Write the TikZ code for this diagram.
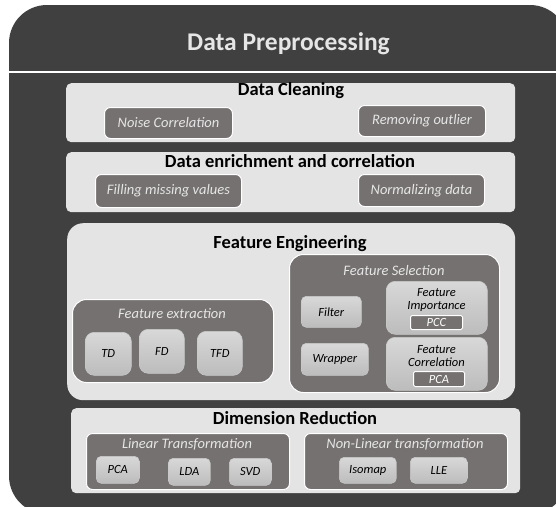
\documentclass[tikz,border=0pt]{standalone}
\usepackage{fontspec}
\setmainfont{Carlito}
\definecolor{dark}{HTML}{404040}
\definecolor{light}{HTML}{E4E4E4}
\definecolor{mid}{HTML}{757170}
\definecolor{chiptop}{HTML}{D8D8D8}
\definecolor{chipbot}{HTML}{BCBCBC}
\definecolor{titlec}{HTML}{E6E6E6}
\newcommand\bx[7]{\node[#1,anchor=north west,inner sep=0pt,minimum width={#5pt-#3pt},minimum height={#6pt-#4pt}] (#2) at (#3pt,-#4pt) {#7};}
\newcommand\fs[1]{\fontsize{#1}{#1}\selectfont}
\tikzset{
  lightbox/.style={fill=light,draw=none,rounded corners=5pt},
  bigbox/.style={fill=light,draw=none,rounded corners=16pt},
  midbox/.style={fill=mid,draw=white,line width=1pt,rounded corners=6pt,font=\fs{14.5}\itshape,text=titlec},
  midround/.style={fill=mid,draw=white,line width=1pt,rounded corners=14pt},
  chip/.style={top color=chiptop,bottom color=chipbot,draw=chipbot!80!white,line width=0.6pt,rounded corners=5pt,font=\fs{12.5}\itshape,text=black},
  chipbig/.style={chip,rounded corners=9pt},
  tag/.style={fill=mid,draw=white,line width=1pt,rounded corners=1.5pt,font=\fs{12.5}\itshape,text=white},
  sectitle/.style={font=\fs{18.5}\bfseries,text=black,inner sep=0pt},
  midtitle/.style={font=\fs{14.5}\itshape,text=titlec,inner sep=0pt},
}
\begin{document}
\begin{tikzpicture}[x=1pt,y=1pt]
\useasboundingbox (0,0) rectangle (556,-506);
\clip (0,0) rectangle (556,-506);
\fill[dark,rounded corners=38pt] (9,-5) rectangle (568,-514);
\node[font=\fs{25.5}\bfseries,text=titlec,inner sep=0pt] (title) at (288.5,-44) {Data Preprocessing};
\coordinate (lineL) at (9,-72);
\coordinate (lineR) at (556,-72);
\draw[white,line width=1.6pt] (lineL) -- (lineR);

% Data cleaning
\bx{lightbox}{clean}{66}{83}{515}{142}{}
\node[sectitle] (cleant) at (291,-91) {Data Cleaning};
\bx{midbox}{noise}{104}{107}{232}{138}{Noise Correlation}
\bx{midbox}{outlier}{358}{105}{485}{136}{Removing outlier}

% Data enrichment
\bx{lightbox}{enrich}{66}{152}{515}{212}{}
\node[sectitle] (enricht) at (290,-161) {Data enrichment and correlation};
\bx{midbox}{filling}{95}{174}{241}{207}{Filling missing values}
\bx{midbox}{normal}{358}{174}{484}{206}{Normalizing data}

% Feature engineering
\bx{bigbox}{feat}{67}{223}{515}{400}{}
\node[sectitle] (featt) at (290,-244) {Feature Engineering};
\bx{midround}{fext}{72}{299}{273}{382}{}
\node[midtitle] (fextt) at (172,-314) {Feature extraction};
\bx{chipbig}{td}{85}{332}{131}{375}{TD}
\bx{chipbig}{fd}{139}{329}{184}{373}{FD}
\bx{chipbig}{tfd}{197}{331}{242}{375}{TFD}

\bx{midround}{fsel}{289}{254}{499}{392}{}
\node[midtitle] (fselt) at (394,-271) {Feature Selection};
\bx{chip}{filter}{301}{296}{361}{327}{Filter}
\bx{chip}{wrapper}{301}{343}{368}{375}{Wrapper}
\bx{chipbig}{fimp}{386}{281}{487}{334}{}
\node[font=\fs{12.5}\itshape,align=center,inner sep=0pt] (fimpt) at (436.5,-300) {Feature\\[1pt]Importance};
\bx{tag}{pcc}{410}{315}{462}{329}{PCC}
\bx{chipbig}{fcor}{386}{337}{487}{390}{}
\node[font=\fs{12.5}\itshape,align=center,inner sep=0pt] (fcort) at (436.5,-356) {Feature\\[1pt]Correlation};
\bx{tag}{pcaB}{413}{371}{464}{386}{PCA}

% Dimension reduction
\bx{lightbox}{dim}{71}{408}{520}{493}{}
\node[sectitle] (dimt) at (295,-418) {Dimension Reduction};
\bx{midbox}{lin}{86}{433}{289}{489}{}
\node[midtitle] (lint) at (187,-444) {Linear Transformation};
\bx{chip}{pca}{96}{456}{139}{483}{PCA}
\bx{chip}{lda}{168}{458}{210}{485}{LDA}
\bx{chip}{svd}{229}{458}{271}{485}{SVD}
\bx{midbox}{nonlin}{304}{433}{507}{489}{}
\node[midtitle] (nonlint) at (405,-444) {Non-Linear transformation};
\bx{chip}{isomap}{339}{457}{396}{483}{Isomap}
\bx{chip}{lle}{410}{457}{467}{483}{LLE}
\end{tikzpicture}
\end{document}
